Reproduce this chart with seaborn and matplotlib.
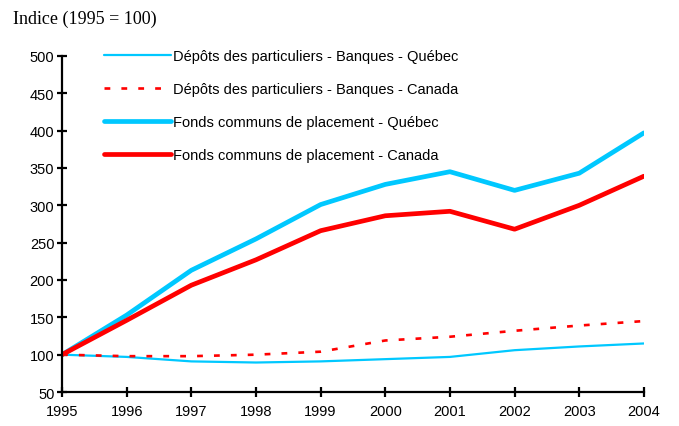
import seaborn as sns
import matplotlib
import matplotlib.pyplot as plt
import pandas as pd

sns.set_theme(style="white")
plt.rcParams['font.family'] = ['Liberation Sans', 'DejaVu Sans']
plt.rcParams['text.color'] = 'black'

# Données (indice 1995 = 100)
annees = [1995, 1996, 1997, 1998, 1999, 2000, 2001, 2002, 2003, 2004]
depots_quebec = [100, 97, 91, 89.5, 91, 94, 97, 106, 111, 115]
depots_canada = [100, 98, 98, 100, 104, 119, 124, 132, 139, 145]
fonds_quebec = [100, 153, 213, 255, 301, 328, 345, 320, 343, 397]
fonds_canada = [100, 146, 193, 227, 266, 286, 292, 268, 300, 339]

noms = [
    'Dépôts des particuliers - Banques - Québec',
    'Dépôts des particuliers - Banques - Canada',
    'Fonds communs de placement - Québec',
    'Fonds communs de placement - Canada',
]
valeurs = [depots_quebec, depots_canada, fonds_quebec, fonds_canada]

# Style de chaque série
cyan = '#00C8FF'
rouge = '#FF0000'
styles = [
    dict(color=cyan, linewidth=1.6),
    dict(color=rouge, linewidth=1.9, dashes=(2.2, 4.2)),
    dict(color=cyan, linewidth=3.4),
    dict(color=rouge, linewidth=3.4),
]

fig = plt.figure(figsize=(6.79, 4.27), dpi=100)
ax = fig.add_axes([0.0913, 0.0796, 0.857, 0.787])

for nom, val, st in zip(noms, valeurs, styles):
    df = pd.DataFrame({'annee': annees, 'indice': val})
    sns.lineplot(df, x='annee', y='indice', ax=ax, label=nom,
                 color=st['color'], linewidth=st['linewidth'])
    if 'dashes' in st:
        ax.lines[-1].set_dashes(st['dashes'])

ax.set_xlim(1995, 2004)
ax.set_ylim(50, 500)
ax.set_xticks(annees)
ax.set_yticks(range(50, 501, 50))
ax.set(xlabel='', ylabel='')

for cote in ['top', 'right']:
    ax.spines[cote].set_visible(False)
for cote in ['left', 'bottom']:
    ax.spines[cote].set_color('black')
    ax.spines[cote].set_linewidth(1.6)
ax.tick_params(axis='both', direction='inout', length=7, width=1.6,
               colors='black', labelsize=10.5, left=True, bottom=True)
ax.tick_params(axis='x', pad=5)
ax.tick_params(axis='y', pad=2)

# Légende sans cadre, dans le haut du graphique
ax.legend(loc='upper left', bbox_to_anchor=(0.145, 0.897),
          bbox_transform=fig.transFigure, frameon=False,
          fontsize=10.5, handlelength=4.6, handletextpad=0.1,
          labelspacing=1.3, borderaxespad=0, labelcolor='black')

fig.text(0.019, 0.955, 'Indice (1995 = 100)', fontsize=13, color='black',
         family=['Liberation Serif', 'DejaVu Serif'], va='center', ha='left')

fig.savefig('out.png', dpi=100)
